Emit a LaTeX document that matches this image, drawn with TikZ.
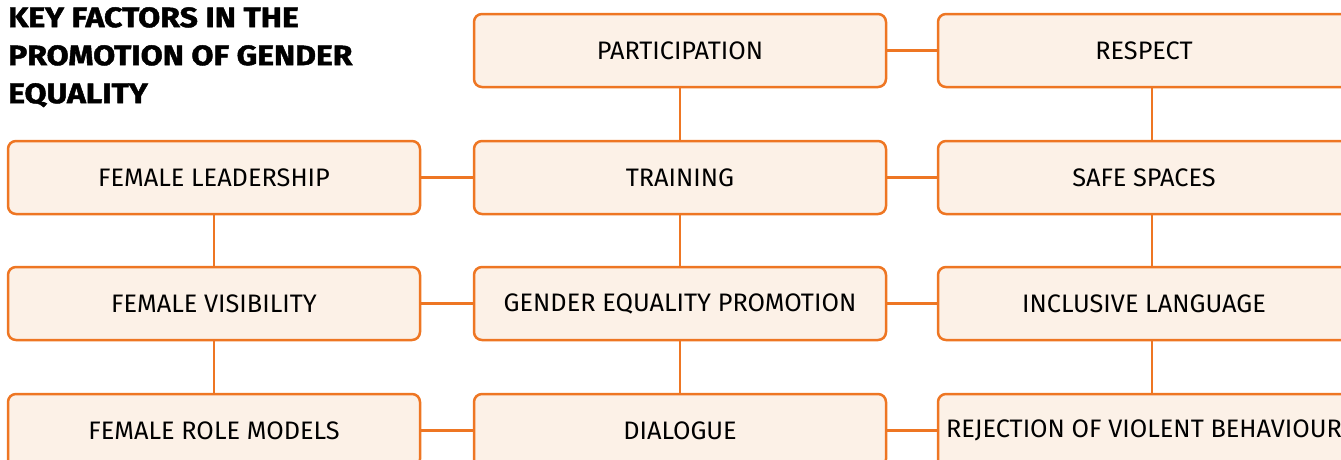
\documentclass[tikz,border=0pt]{standalone}
\usepackage{fontspec}
\setmainfont{Fira Sans}
\newfontfamily\headfont[FakeStretch=1.14,FakeBold=1.6]{Fira Sans}
\usepackage{tikz}
\definecolor{keyorange}{HTML}{EE7623}
\definecolor{keycream}{HTML}{FCF1E7}
\tikzstyle{factor}=[rectangle,rounded corners=8pt,draw=keyorange,fill=keycream,
                    line width=2.5pt,minimum width=412pt,minimum height=73pt,
                    inner sep=0pt,font=\fontsize{25.3}{30}\selectfont]
\tikzstyle{link}=[draw=keyorange,line width=2.5pt]

\begin{document}
\begin{tikzpicture}[x=1pt,y=-1pt]
    \useasboundingbox (0,0) rectangle (1341,459);
    \clip (0,0) rectangle (1341,459);
    \node (title) at (8,7) [anchor=north west,align=left,inner sep=0pt,
        font=\headfont\fontsize{28}{38}\selectfont\bfseries]
        {KEY FACTORS IN THE\\PROMOTION OF GENDER\\EQUALITY};
    % three columns, rows 127pt apart
    \node (lead)  at ( 214, 177.5) [factor]{FEMALE LEADERSHIP};
    \node (vis)   at ( 214, 303.5) [factor]{FEMALE VISIBILITY};
    \node (role)  at ( 214, 430.5) [factor]{FEMALE ROLE MODELS};
    \node (part)  at ( 680,  50.5) [factor]{PARTICIPATION};
    \node (train) at ( 680, 177.5) [factor]{TRAINING};
    \node (prom)  at ( 680, 303.5) [factor]{GENDER EQUALITY PROMOTION};
    \node (dial)  at ( 680, 430.5) [factor]{DIALOGUE};
    \node (resp)  at (1144,  50.5) [factor]{RESPECT};
    \node (safe)  at (1144, 177.5) [factor]{SAFE SPACES};
    \node (lang)  at (1144, 303.5) [factor]{INCLUSIVE LANGUAGE};
    \node (viol)  at (1144, 430.5) [factor]{REJECTION OF VIOLENT BEHAVIOUR};
    \draw[link] (part) -- (resp) (lead) -- (train) -- (safe)
                (vis) -- (prom) -- (lang) (role) -- (dial) -- (viol);
    \draw[link] (lead) -- (vis) -- (role) (part) -- (train) -- (prom) -- (dial);
    \draw[link] ([xshift=8pt]resp.south) -- ([xshift=8pt]safe.north)
                ([xshift=8pt]safe.south) -- ([xshift=8pt]lang.north)
                ([xshift=8pt]lang.south) -- ([xshift=8pt]viol.north);
\end{tikzpicture}
\end{document}
